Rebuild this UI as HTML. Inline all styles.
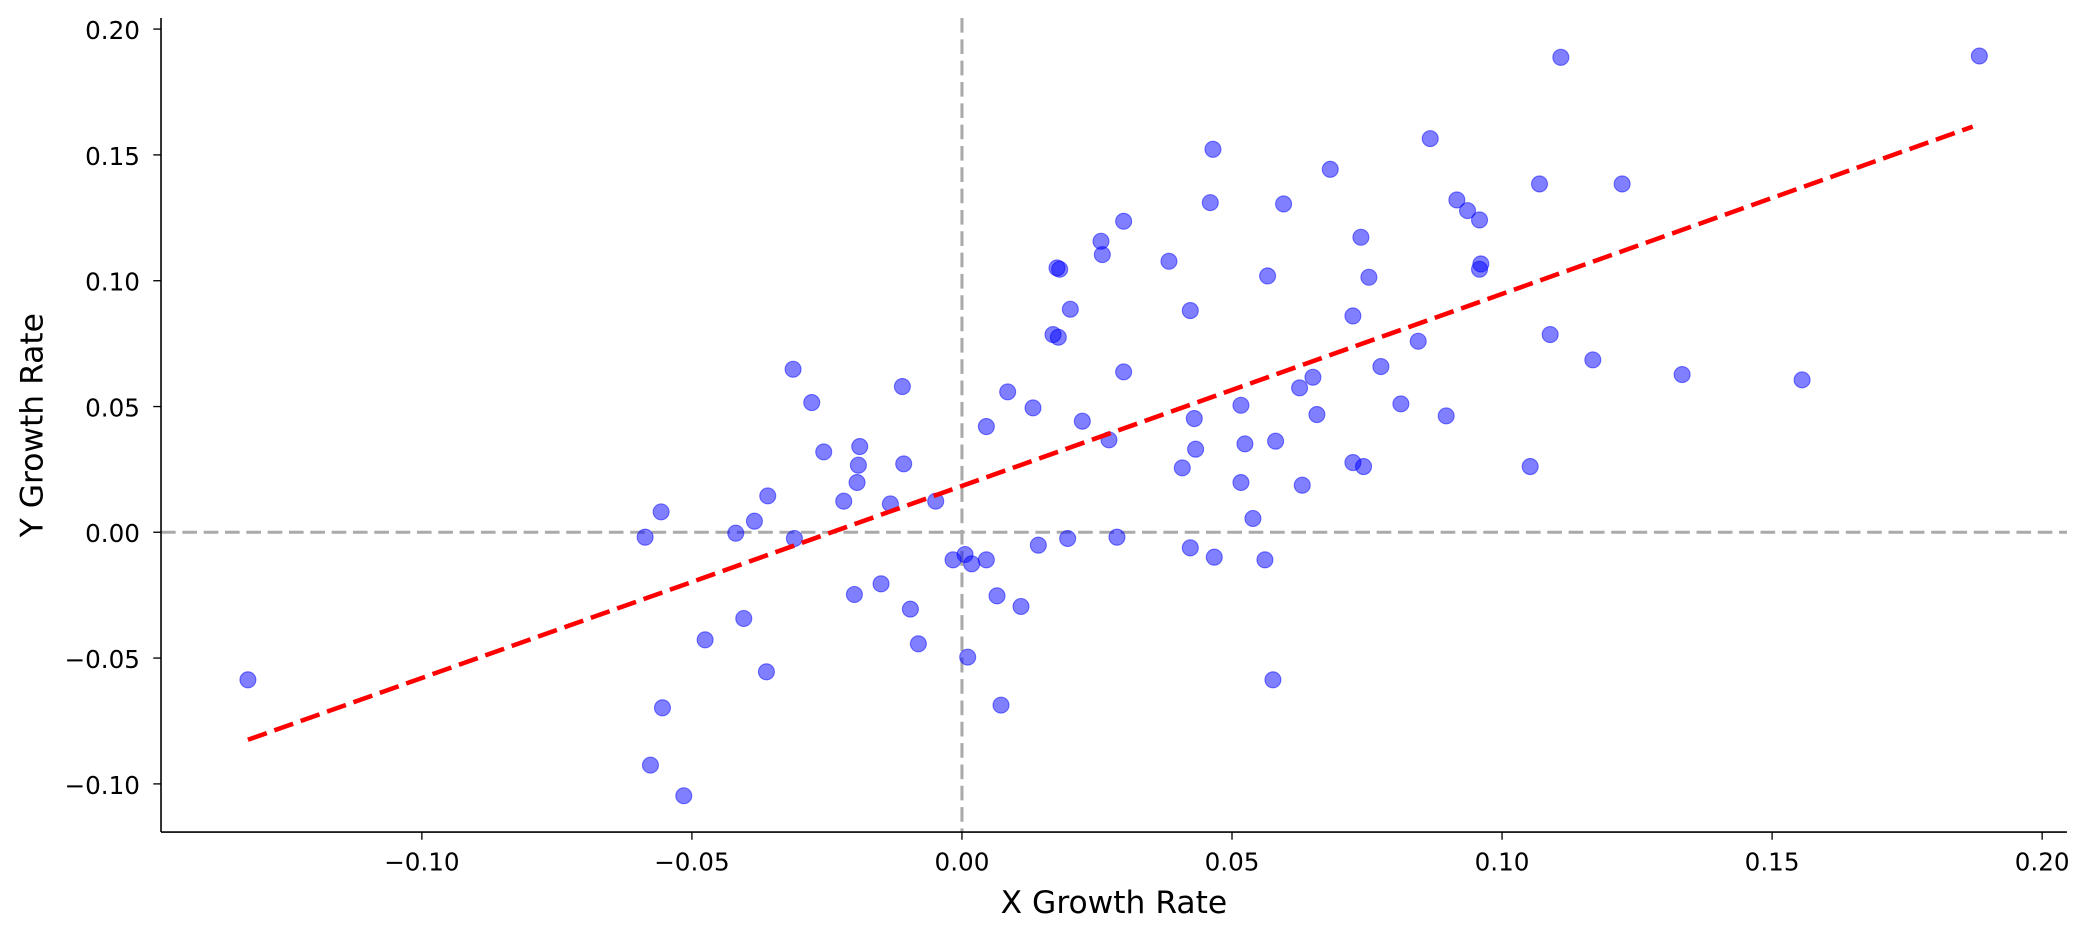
<!DOCTYPE html>
<html><head><meta charset="utf-8"><style>html,body{margin:0;padding:0;background:#fff}svg{display:block}</style></head>
<body>
<svg width="2090" height="938" viewBox="0 0 1568 703.7" xmlns="http://www.w3.org/2000/svg" font-family="'DejaVu Sans','Liberation Sans',sans-serif">
<rect width="1568" height="703.7" fill="#fff"/>
<line x1="721.7" y1="13.5" x2="721.7" y2="624.2" stroke="#aaa" stroke-width="2.3" stroke-dasharray="11,5"/>
<line x1="120.8" y1="399.3" x2="1550.7" y2="399.3" stroke="#aaa" stroke-width="2.3" stroke-dasharray="11,5"/>
<g id="pts" fill="rgba(0,0,255,0.5)" stroke="rgba(0,0,255,0.5)" stroke-width="0.8">
<circle cx="186" cy="510" r="6"/><circle cx="484" cy="403" r="6"/><circle cx="496" cy="384" r="6"/><circle cx="488" cy="574" r="6"/><circle cx="497" cy="531" r="6"/><circle cx="513" cy="597" r="6"/><circle cx="529" cy="480" r="6"/><circle cx="552" cy="400" r="6"/><circle cx="558" cy="464" r="6"/><circle cx="566" cy="391" r="6"/><circle cx="575" cy="504" r="6"/><circle cx="576" cy="372" r="6"/><circle cx="595" cy="277" r="6"/><circle cx="596" cy="404" r="6"/><circle cx="609" cy="302" r="6"/><circle cx="618" cy="339" r="6"/><circle cx="633" cy="376" r="6"/><circle cx="641" cy="446" r="6"/><circle cx="643" cy="362" r="6"/><circle cx="644" cy="349" r="6"/><circle cx="645" cy="335" r="6"/><circle cx="661" cy="438" r="6"/><circle cx="668" cy="378" r="6"/><circle cx="677" cy="290" r="6"/><circle cx="678" cy="348" r="6"/><circle cx="683" cy="457" r="6"/><circle cx="689" cy="483" r="6"/><circle cx="702" cy="376" r="6"/><circle cx="715" cy="420" r="6"/><circle cx="724" cy="416" r="6"/><circle cx="726" cy="493" r="6"/><circle cx="729" cy="423" r="6"/><circle cx="740" cy="420" r="6"/><circle cx="748" cy="447" r="6"/><circle cx="751" cy="529" r="6"/><circle cx="740" cy="320" r="6"/><circle cx="756" cy="294" r="6"/><circle cx="766" cy="455" r="6"/><circle cx="775" cy="306" r="6"/><circle cx="779" cy="409" r="6"/><circle cx="790" cy="251" r="6"/><circle cx="793" cy="201" r="6"/><circle cx="795" cy="202" r="6"/><circle cx="794" cy="253" r="6"/><circle cx="801" cy="404" r="6"/><circle cx="803" cy="232" r="6"/><circle cx="812" cy="316" r="6"/><circle cx="826" cy="181" r="6"/><circle cx="827" cy="191" r="6"/><circle cx="832" cy="330" r="6"/><circle cx="838" cy="403" r="6"/><circle cx="843" cy="166" r="6"/><circle cx="843" cy="279" r="6"/><circle cx="877" cy="196" r="6"/><circle cx="887" cy="351" r="6"/><circle cx="893" cy="233" r="6"/><circle cx="893" cy="411" r="6"/><circle cx="896" cy="314" r="6"/><circle cx="897" cy="337" r="6"/><circle cx="908" cy="152" r="6"/><circle cx="910" cy="112" r="6"/><circle cx="911" cy="418" r="6"/><circle cx="931" cy="304" r="6"/><circle cx="931" cy="362" r="6"/><circle cx="934" cy="333" r="6"/><circle cx="940" cy="389" r="6"/><circle cx="949" cy="420" r="6"/><circle cx="951" cy="207" r="6"/><circle cx="955" cy="510" r="6"/><circle cx="957" cy="331" r="6"/><circle cx="963" cy="153" r="6"/><circle cx="975" cy="291" r="6"/><circle cx="977" cy="364" r="6"/><circle cx="985" cy="283" r="6"/><circle cx="988" cy="311" r="6"/><circle cx="998" cy="127" r="6"/><circle cx="1015" cy="237" r="6"/><circle cx="1015" cy="347" r="6"/><circle cx="1021" cy="178" r="6"/><circle cx="1023" cy="350" r="6"/><circle cx="1027" cy="208" r="6"/><circle cx="1036" cy="275" r="6"/><circle cx="1051" cy="303" r="6"/><circle cx="1064" cy="256" r="6"/><circle cx="1073" cy="104" r="6"/><circle cx="1085" cy="312" r="6"/><circle cx="1093" cy="150" r="6"/><circle cx="1101" cy="158" r="6"/><circle cx="1110" cy="165" r="6"/><circle cx="1110" cy="202" r="6"/><circle cx="1111" cy="198" r="6"/><circle cx="1148" cy="350" r="6"/><circle cx="1155" cy="138" r="6"/><circle cx="1163" cy="251" r="6"/><circle cx="1171" cy="43" r="6"/><circle cx="1195" cy="270" r="6"/><circle cx="1217" cy="138" r="6"/><circle cx="1262" cy="281" r="6"/><circle cx="1352" cy="285" r="6"/><circle cx="1485" cy="42" r="6"/>
</g>
<line x1="186" y1="555" x2="1480" y2="95" stroke="#ff0000" stroke-width="3.4" stroke-dasharray="15,6"/>
<g stroke="#000" stroke-width="1.2">
<line x1="120.8" y1="13.5" x2="120.8" y2="624.2"/>
<line x1="120.8" y1="624.2" x2="1550.7" y2="624.2"/>
</g>
<g stroke="#000" stroke-width="1">
<line x1="115" y1="21.8" x2="120.8" y2="21.8"/><line x1="115" y1="116.2" x2="120.8" y2="116.2"/><line x1="115" y1="210.6" x2="120.8" y2="210.6"/><line x1="115" y1="305" x2="120.8" y2="305"/><line x1="115" y1="399.3" x2="120.8" y2="399.3"/><line x1="115" y1="493.7" x2="120.8" y2="493.7"/><line x1="115" y1="588.1" x2="120.8" y2="588.1"/>
<line x1="316.5" y1="624.2" x2="316.5" y2="630"/><line x1="519.1" y1="624.2" x2="519.1" y2="630"/><line x1="721.7" y1="624.2" x2="721.7" y2="630"/><line x1="924.3" y1="624.2" x2="924.3" y2="630"/><line x1="1126.9" y1="624.2" x2="1126.9" y2="630"/><line x1="1329.5" y1="624.2" x2="1329.5" y2="630"/><line x1="1532.1" y1="624.2" x2="1532.1" y2="630"/>
</g>
<g font-size="18.5" text-anchor="end" fill="#000">
<text x="105" y="29.3">0.20</text><text x="105" y="123.7">0.15</text><text x="105" y="218.1">0.10</text><text x="105" y="312.5">0.05</text><text x="105" y="406.8">0.00</text><text x="105" y="501.2">−0.05</text><text x="105" y="595.6">−0.10</text>
</g>
<g font-size="18.5" text-anchor="middle" fill="#000">
<text x="316.5" y="653">−0.10</text><text x="519.1" y="653">−0.05</text><text x="721.7" y="653">0.00</text><text x="924.3" y="653">0.05</text><text x="1126.9" y="653">0.10</text><text x="1329.5" y="653">0.15</text><text x="1532.1" y="653">0.20</text>
</g>
<text x="835.7" y="685" font-size="23.5" text-anchor="middle">X Growth Rate</text>
<text x="0" y="0" font-size="23.5" text-anchor="middle" transform="translate(32,319) rotate(-90)">Y Growth Rate</text>
</svg>
</body></html>
